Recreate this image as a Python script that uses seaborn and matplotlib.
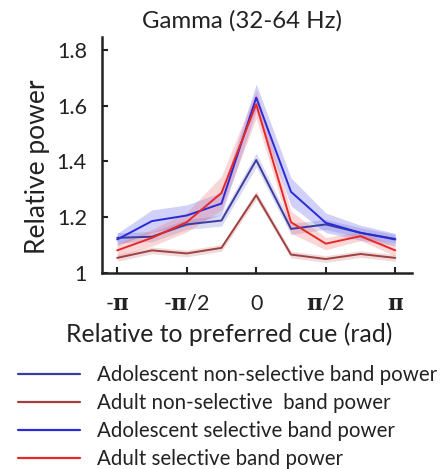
import numpy as np
import pandas as pd
import matplotlib
matplotlib.use("Agg")
import matplotlib.pyplot as plt
import seaborn as sns

sns.set_theme(style="ticks")
plt.rcParams['font.family'] = ['Lato', 'DejaVu Sans']
plt.rcParams['mathtext.fontset'] = 'dejavuserif'

angles = np.array([-4, -3, -2, -1, 0, 1, 2, 3, 4]) * np.pi / 4
series_names = ["Adolescent non-selective band power",
                "Adult non-selective  band power",
                "Adolescent selective band power",
                "Adult selective band power"]
adol_nonsel = [1.126, 1.130, 1.174, 1.188, 1.405, 1.158, 1.174, 1.144, 1.122]
adult_nonsel = [1.054, 1.081, 1.070, 1.090, 1.279, 1.066, 1.050, 1.068, 1.054]
adol_sel = [1.120, 1.186, 1.206, 1.249, 1.629, 1.291, 1.180, 1.144, 1.120]
adult_sel = [1.081, 1.126, 1.182, 1.287, 1.605, 1.182, 1.105, 1.132, 1.081]
adol_nonsel_err = [0.018, 0.018, 0.018, 0.02, 0.025, 0.02, 0.018, 0.018, 0.016]
adult_nonsel_err = [0.012, 0.012, 0.012, 0.012, 0.015, 0.012, 0.012, 0.012, 0.012]
adol_sel_err = [0.022, 0.04, 0.038, 0.04, 0.048, 0.05, 0.035, 0.027, 0.022]
adult_sel_err = [0.025, 0.03, 0.035, 0.06, 0.05, 0.04, 0.022, 0.016, 0.02]

colors = ["#3c3ca0", "#a04040", "#2a2ad8", "#e82828"]
fills = ["#5a5ac8", "#c07070", "#5858e8", "#f07070"]
fill_alpha = [0.22, 0.25, 0.28, 0.28]

values = [adol_nonsel, adult_nonsel, adol_sel, adult_sel]
errs = [adol_nonsel_err, adult_nonsel_err, adol_sel_err, adult_sel_err]

df = pd.concat([pd.DataFrame({"angle": angles, "power": v, "series": n})
                for v, n in zip(values, series_names)], ignore_index=True)

fig = plt.figure(figsize=(4.46, 4.69), dpi=100)
ax = fig.add_axes([0.229, 0.418, 0.695, 0.503])

# bands
for v, e, fc, a in zip(values, errs, fills, fill_alpha):
    v = np.array(v); e = np.array(e)
    ax.fill_between(angles, v - e, v + e, color=fc, alpha=a, linewidth=0)

sns.lineplot(data=df, x="angle", y="power", hue="series",
             hue_order=series_names, palette=colors, linewidth=1.4,
             ax=ax, legend=False)

ax.set_xlim(-np.pi - 0.34, np.pi + 0.38)
ax.set_ylim(1.0, 1.846)
ax.set_xticks([-np.pi, -np.pi / 2, 0, np.pi / 2, np.pi])
ax.set_xticklabels([r"-$\mathbf{\pi}$", r"-$\mathbf{\pi}$/2", "0",
                    r"$\mathbf{\pi}$/2", r"$\mathbf{\pi}$"])
ax.set_yticks([1, 1.2, 1.4, 1.6, 1.8])
ax.set_yticklabels(["1", "1.2", "1.4", "1.6", "1.8"])
ax.tick_params(direction="in", length=4, width=1.5, labelsize=15.5,
               colors="#222222")
ax.tick_params(axis="x", pad=15)
ax.tick_params(axis="y", pad=11)
for s in ["top", "right"]:
    ax.spines[s].set_visible(False)
for s in ["left", "bottom"]:
    ax.spines[s].set_linewidth(1.8)
    ax.spines[s].set_color("#222222")

ax.set_xlabel("Relative to preferred cue (rad)", fontsize=17.8, color="#222222")
ax.xaxis.set_label_coords(0.41, -0.208)
ax.set_ylabel("Relative power", fontsize=19, color="#222222")
ax.yaxis.set_label_coords(-0.168, 0.45)
ax.set_title("Gamma (32-64 Hz)", fontsize=17.3, color="#222222", pad=7, x=0.45)

handles = [plt.Line2D([], [], color=c, linewidth=1.6) for c in colors]
fig.legend(handles, series_names, loc="upper left",
           bbox_to_anchor=(0.022, 0.239), frameon=False, fontsize=14.8,
           handlelength=3.0, handletextpad=0.83, labelspacing=0.39,
           borderaxespad=0, labelcolor="#222222")

fig.savefig("out.png", dpi=100, facecolor="white")
